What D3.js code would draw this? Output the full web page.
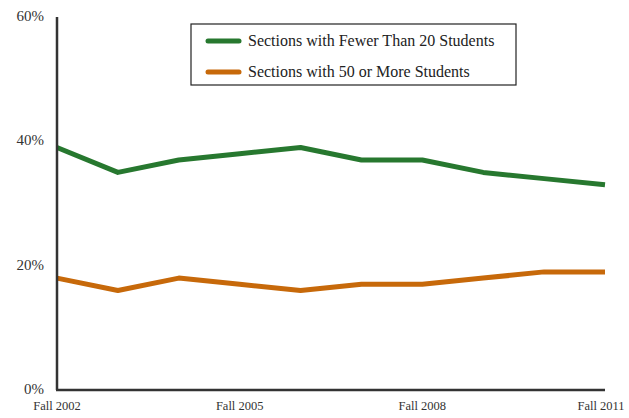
<!DOCTYPE html>
<html>
<head>
<meta charset="utf-8">
<script src="https://cdn.jsdelivr.net/npm/d3@7"></script>
<style>
  body { margin: 0; background: #fff; }
</style>
</head>
<body>
<svg id="svg"></svg>
<script>
// Chart data
const terms = ["Fall 2002", "Fall 2003", "Fall 2004", "Fall 2005", "Fall 2006",
    "Fall 2007", "Fall 2008", "Fall 2009", "Fall 2010", "Fall 2011"];
const tickTerms = ["Fall 2002", "Fall 2005", "Fall 2008", "Fall 2011"];
const fewerThan20 = [39, 35, 37, 38, 39, 37, 37, 35, 34, 33];
const fiftyOrMore = [18, 16, 18, 17, 16, 17, 17, 18, 19, 19];
const yTicks = [0, 20, 40, 60];
const seriesNames = ["Sections with Fewer Than 20 Students", "Sections with 50 or More Students"];
const seriesColors = ["#27782f", "#c7690a"];

const serif = "'Liberation Serif', 'DejaVu Serif', serif";

// SVG dimensions
const width = 629, height = 418;
const margin = { top: 17, right: 24, bottom: 28, left: 57 };

const svg = d3.select("#svg")
    .attr("width", width)
    .attr("height", height)
    .style("font-family", serif);

const x = d3.scalePoint()
    .domain(terms)
    .range([margin.left, width - margin.right]);

const y = d3.scaleLinear()
    .domain([0, 60])
    .range([height - margin.bottom, margin.top]);

// Y axis labels
svg.selectAll(".ylabel")
    .data(yTicks)
    .enter()
    .append("text")
    .attr("class", "ylabel")
    .attr("x", margin.left - 13)
    .attr("y", (d) => y(d) + 4)
    .attr("text-anchor", "end")
    .attr("font-family", serif)
    .attr("font-size", 15)
    .attr("fill", "#333")
    .text((d) => d + "%");

// X axis labels
svg.selectAll(".xlabel")
    .data(tickTerms)
    .enter()
    .append("text")
    .attr("class", "xlabel")
    .attr("x", (d, i) => x(d) + (i === tickTerms.length - 1 ? -4 : 0))
    .attr("y", height - margin.bottom + 20)
    .attr("text-anchor", "middle")
    .attr("font-family", serif)
    .attr("font-size", 12.5)
    .attr("fill", "#333")
    .text((d) => d);

// Series lines
const line = d3.line()
    .x((d, i) => x(terms[i]))
    .y((d) => y(d));

[fewerThan20, fiftyOrMore].forEach((values, i) => {
    svg.append("path")
        .datum(values)
        .attr("fill", "none")
        .attr("stroke", seriesColors[i])
        .attr("stroke-width", 5)
        .attr("stroke-linejoin", "round")
        .attr("d", line);
});

// Axes lines
svg.append("line")
    .attr("x1", margin.left).attr("x2", margin.left)
    .attr("y1", y(60)).attr("y2", y(0))
    .attr("stroke", "#333")
    .attr("stroke-width", 2.5);

svg.append("line")
    .attr("x1", margin.left - 1).attr("x2", x(terms[terms.length - 1]))
    .attr("y1", y(0)).attr("y2", y(0))
    .attr("stroke", "#333")
    .attr("stroke-width", 2.5);

// Legend
const legend = svg.append("g").attr("transform", "translate(191,24)");

legend.append("rect")
    .attr("width", 325)
    .attr("height", 61)
    .attr("fill", "#fff")
    .attr("stroke", "#222")
    .attr("stroke-width", 1.2);

seriesNames.forEach((name, i) => {
    const ly = 17 + i * 31;
    legend.append("line")
        .attr("x1", 17).attr("x2", 48)
        .attr("y1", ly).attr("y2", ly)
        .attr("stroke", seriesColors[i])
        .attr("stroke-width", 5)
        .attr("stroke-linecap", "round");
    legend.append("text")
        .attr("x", 57)
        .attr("y", ly + 5)
        .attr("font-family", serif)
        .attr("font-size", 16)
        .attr("fill", "#222")
        .text(name);
});
</script>
</body>
</html>
